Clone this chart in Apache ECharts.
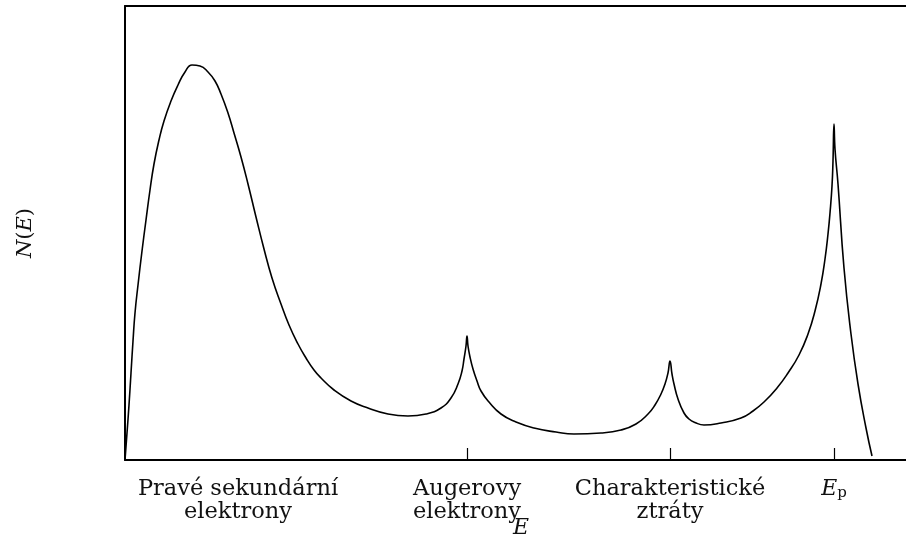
<!DOCTYPE html>
<html>
<head>
<meta charset="utf-8">
<script src="https://cdn.jsdelivr.net/npm/echarts@6/dist/echarts.min.js"></script>
<style>html,body{margin:0;padding:0;background:#fff}#c{width:906px;height:542px}</style>
</head>
<body>
<div id="c"></div>
<script>
// Energy (horizontal, arbitrary units) and N(E) (vertical, arbitrary units)
const energy = [0, 2, 4, 6, 8, 10, 13, 17, 21, 25, 29, 34, 39, 46, 53, 60, 67, 75, 83, 90, 96, 103, 109, 116, 123, 131, 139, 147, 156, 164, 173, 181, 189, 196, 209, 226, 243, 263, 283, 301, 316, 326, 333, 337, 339, 341, 342, 343, 345, 348, 352, 356, 364, 376, 391, 409, 431, 449, 476, 496, 511, 523, 530, 536, 540, 543, 545, 547, 549, 553, 559, 564, 570, 579, 596, 616, 628, 639, 652, 663, 674, 683, 690, 696, 700, 703, 705, 707, 708, 709, 710, 713, 719, 726, 733, 741, 747];
const counts = [0, 27, 55, 87, 119, 147, 175, 209, 240, 270, 296, 320, 339, 359, 375, 388, 395, 394, 388, 379, 366, 347, 327, 303, 276, 243, 211, 182, 156, 135, 116, 102, 90, 82, 70, 59, 52, 46, 44, 46, 52, 62, 76, 89, 101, 114, 124, 114, 103, 91, 79, 69, 58, 46, 38, 32, 28, 26, 27, 30, 36, 46, 55, 66, 76, 87, 99, 86, 76, 61, 47, 41, 37.5, 35, 37, 42, 49, 58, 72, 87, 105, 126, 149, 176, 201, 226, 247, 274, 299, 336, 311, 276, 192, 126, 76, 32, 4];
const tickPositions = [342, 545, 709];
const labelPositions = [113, 342, 545, 709];
const labelTexts = ['Pravé sekundární\nelektrony', 'Augerovy\nelektrony', 'Charakteristické\nztráty', '{i|E}{s|p}'];
const xName = 'E';
const yName = '{i|N}({i|E})';

const chart = echarts.init(document.getElementById('c'), null, {renderer: 'canvas'});
const serif = 'DejaVu Serif';
chart.setOption({
  animation: false,
  backgroundColor: '#fff',
  grid: {left: 125, top: 6, right: -5, bottom: 82, containLabel: false, outerBoundsMode: 'none'},
  xAxis: [{
    type: 'value', min: 0, max: 786,
    axisLine: {show: true, lineStyle: {color: '#000', width: 2}},
    splitLine: {show: false},
    axisTick: {show: true, inside: true, length: 12, customValues: tickPositions, lineStyle: {color: '#000', width: 1.2}},
    axisLabel: {
      show: true, margin: 18, customValues: labelPositions, hideOverlap: false,
      color: '#111', fontFamily: serif, fontSize: 22.5, lineHeight: 23, align: 'center',
      formatter: function (v) {
        const i = labelPositions.indexOf(v);
        return i >= 0 ? labelTexts[i] : '';
      },
      rich: {
        i: {fontFamily: serif, fontStyle: 'italic', fontSize: 22, color: '#111'},
        s: {fontFamily: serif, fontSize: 15, color: '#111', verticalAlign: 'bottom', padding: [8, 0, 0, 0]}
      }
    },
    name: xName, nameLocation: 'middle', nameGap: 57, nameMoveOverlap: false,
    nameTextStyle: {fontFamily: serif, fontStyle: 'italic', fontSize: 22, color: '#111', padding: [0, 0, 0, 6]}
  }, {
    type: 'value', min: 0, max: 786, position: 'top',
    axisLine: {show: true, lineStyle: {color: '#000', width: 2}},
    axisTick: {show: false}, axisLabel: {show: false}, splitLine: {show: false}
  }],
  yAxis: {
    type: 'value', min: 0, max: 454,
    axisLine: {show: true, lineStyle: {color: '#000', width: 2}},
    axisTick: {show: false}, axisLabel: {show: false}, splitLine: {show: false},
    name: yName, nameLocation: 'middle', nameGap: 89, nameRotate: 90,
    nameTextStyle: {
      fontFamily: serif, fontSize: 21, color: '#111',
      rich: {i: {fontFamily: serif, fontStyle: 'italic', fontSize: 21, color: '#111'}}
    }
  },
  series: [{
    type: 'line',
    data: energy.map((e, i) => [e, counts[i]]),
    showSymbol: false,
    smooth: 0.5,
    lineStyle: {color: '#000', width: 1.6},
    clip: false
  }]
});
</script>
</body>
</html>
